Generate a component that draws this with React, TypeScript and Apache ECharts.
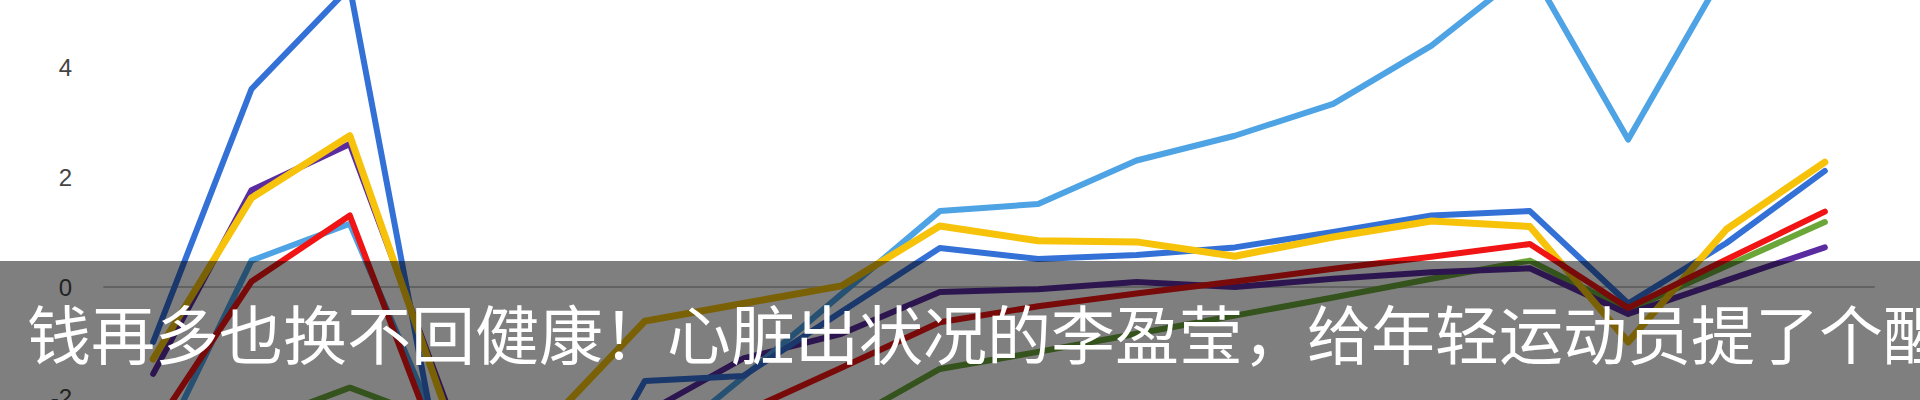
import React, { useEffect, useRef } from "react";
import * as echarts from "echarts";

const categories = ["1", "2", "3", "4", "5", "6", "7", "8", "9", "10", "11", "12", "13", "14", "15", "16", "17", "18"];

const greenValues = [-3.0, -2.5, -1.83, -2.5, -3.2, -3.3, -3.0, -2.5, -1.49, -1.18, -0.85, -0.52, -0.19, 0.15, 0.48, -0.42, 0.38, 1.18];
const purpleValues = [-1.58, 1.76, 2.6, -2.2, -3.0, -2.3, -1.3, -0.85, -0.09, -0.04, 0.09, 0.0, 0.15, 0.27, 0.34, -0.49, 0.12, 0.72];
const lightBlueValues = [-3.2, 0.48, 1.15, -3.0, -3.5, -3.1, -1.64, -0.13, 1.38, 1.51, 2.3, 2.75, 3.33, 4.39, 5.8, 2.68, 5.8, 6.5];
const darkBlueValues = [-1.0, 3.6, 5.45, -4.0, -4.9, -1.71, -1.62, -0.45, 0.71, 0.51, 0.58, 0.72, 1.0, 1.3, 1.38, -0.3, 0.8, 2.11];
const yellowValues = [-1.31, 1.62, 2.75, -2.35, -2.5, -0.62, -0.3, 0.02, 1.11, 0.84, 0.82, 0.56, 0.91, 1.2, 1.1, -1.0, 1.05, 2.27];
const redValues = [-2.6, 0.1, 1.3, -3.4, -3.4, -2.8, -2.28, -1.47, -0.64, -0.35, -0.12, 0.1, 0.33, 0.55, 0.78, -0.38, 0.5, 1.37];

const yTicks = { min: -4, max: 6, interval: 2 };

const caption = "钱再多也换不回健康！心脏出状况的李盈莹，给年轻运动员提了个醒";

const seriesDefs = [
  { name: "green", color: "#6aa638", width: 6, data: greenValues },
  { name: "purple", color: "#5a2ca0", width: 6, data: purpleValues },
  { name: "lightBlue", color: "#4ea3e4", width: 6, data: lightBlueValues },
  { name: "darkBlue", color: "#3471d6", width: 6, data: darkBlueValues },
  { name: "yellow", color: "#f7c20a", width: 7, data: yellowValues },
  { name: "red", color: "#f01414", width: 6, data: redValues },
];

// The chart canvas is taller than the window and shifted up, so that the
// visible window shows the value range of about -2 to 5.2 like the reference.
const OFFSET = 43;

export default function App() {
  const ref = useRef<HTMLDivElement>(null);
  useEffect(() => {
    if (!ref.current) return;
    const chart = echarts.init(ref.current, undefined, { renderer: "svg" });
    chart.setOption({
      animation: false,
      backgroundColor: "#ffffff",
      grid: { left: 104, right: 46, top: 0, bottom: 0, containLabel: false },
      xAxis: {
        type: "category",
        data: categories,
        boundaryGap: true,
        axisLine: { show: true, onZero: true, lineStyle: { color: "#c4c4c4", width: 2 } },
        axisTick: { show: false },
        axisLabel: { show: false },
        splitLine: { show: false },
      },
      yAxis: {
        type: "value",
        min: yTicks.min,
        max: yTicks.max,
        interval: yTicks.interval,
        axisLine: { show: false },
        axisTick: { show: false },
        splitLine: { show: false },
        axisLabel: {
          color: "#444444",
          fontSize: 24,
          margin: 32,
          showMaxLabel: false,
          showMinLabel: false,
          fontFamily: "Liberation Sans, Arial, sans-serif",
        },
      },
      series: seriesDefs.map((s, i) => ({
        name: s.name,
        type: "line",
        data: s.data,
        symbol: "none",
        smooth: false,
        clip: true,
        z: 3 + i,
        lineStyle: { color: s.color, width: s.width, cap: "round", join: "round" },
      })),
      graphic: [
        {
          type: "rect",
          z: 100,
          shape: { x: 0, y: 261 + OFFSET, width: 1920, height: 150 },
          style: { fill: "rgba(0,0,0,0.5)" },
        },
        {
          type: "text",
          z: 101,
          x: 27,
          y: 331 + OFFSET,
          style: {
            text: caption,
            fill: "#ffffff",
            fontSize: 64,
            fontFamily: "Noto Sans CJK SC",
            verticalAlign: "middle",
            align: "left",
          },
        },
      ],
    });
    return () => chart.dispose();
  }, []);
  return (
    <div
      ref={ref}
      style={{ position: "fixed", left: 0, top: -OFFSET, width: 1920, height: 550 }}
    />
  );
}
